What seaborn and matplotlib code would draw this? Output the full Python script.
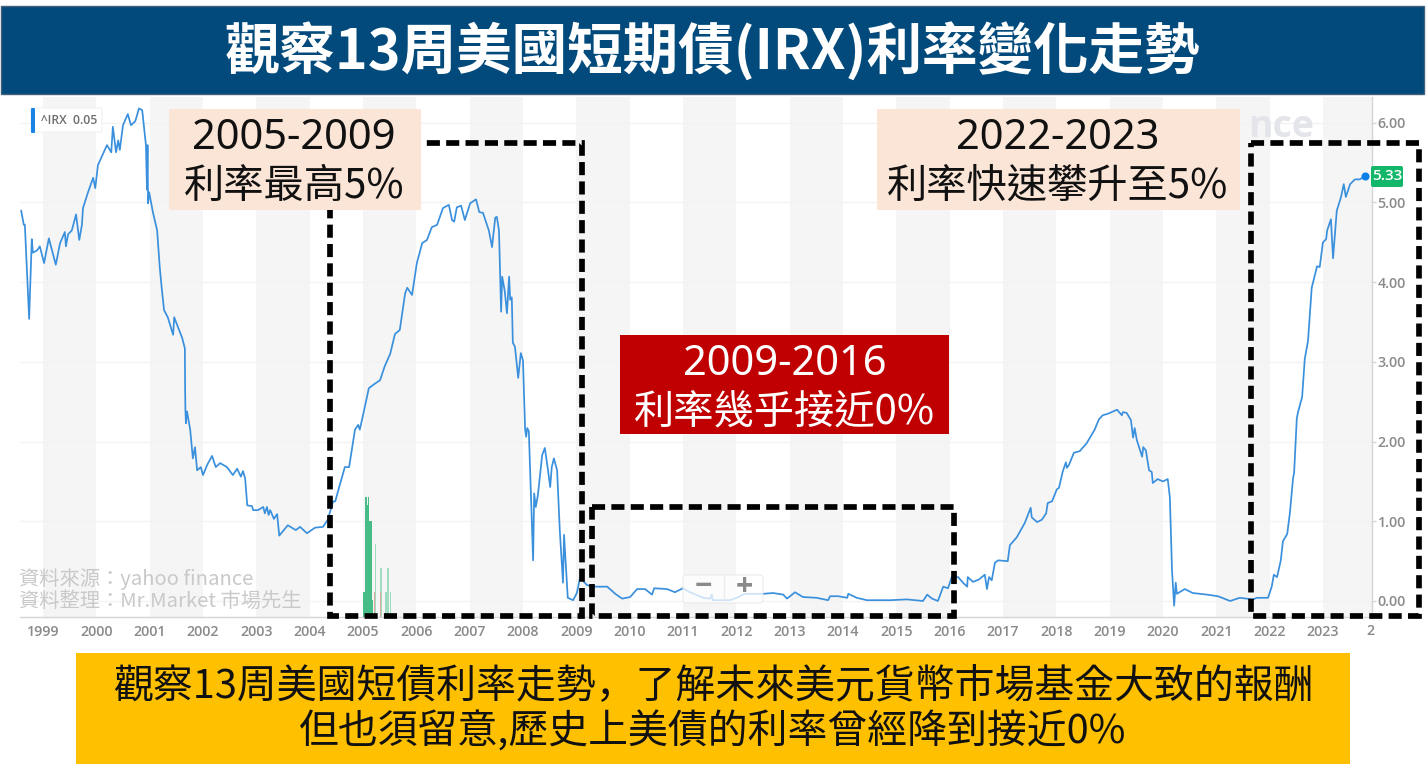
import matplotlib
matplotlib.use("Agg")
import matplotlib.pyplot as plt
from matplotlib.patches import Rectangle, FancyBboxPatch
import seaborn as sns
import pandas as pd

YEARS = list(range(1999, 2024))
Y_TICKS = [0, 1, 2, 3, 4, 5, 6]

# 13-week T-bill yield: (decimal year, percent)
t_1998_2001 = [1998.59,1998.64,1998.66,1998.74,1998.79,1998.81,1998.89,1998.94,1999.02,1999.11,1999.24,1999.32,1999.41,1999.43,1999.47,1999.54,1999.62,1999.68,1999.73,1999.75,1999.84,1999.94,1999.98,2000.03,2000.20,2000.28,2000.31,2000.37,2000.41,2000.44,2000.50,2000.59,2000.65,2000.73,2000.80,2000.86,2000.93,2000.95,2000.96,2000.97,2000.99,2001.06,2001.14,2001.19,2001.23,2001.27,2001.34,2001.44,2001.46,2001.53,2001.61,2001.66]
v_1998_2001 = [4.90,4.72,4.72,3.54,4.54,4.37,4.40,4.45,4.24,4.55,4.22,4.49,4.63,4.45,4.60,4.65,4.85,4.53,4.72,4.93,5.12,5.31,5.18,5.47,5.72,5.63,5.95,5.63,5.78,5.66,5.97,6.11,5.97,6.02,6.18,6.16,5.72,5.16,5.72,4.99,5.13,4.88,4.65,4.18,3.90,3.65,3.56,3.34,3.56,3.44,3.30,3.17]
t_2001_2005 = [2001.665,2001.67,2001.68,2001.70,2001.76,2001.81,2001.85,2001.89,2001.96,2002.00,2002.08,2002.17,2002.24,2002.32,2002.45,2002.56,2002.64,2002.71,2002.75,2002.79,2002.83,2002.92,2002.94,2003.03,2003.13,2003.16,2003.20,2003.23,2003.26,2003.33,2003.39,2003.43,2003.59,2003.74,2003.82,2003.95,2004.10,2004.25,2004.34,2004.44,2004.48,2004.55,2004.66,2004.74,2004.85,2004.91,2004.94,2005.00,2005.11,2005.23,2005.32,2005.41,2005.51,2005.60,2005.69]
v_2001_2005 = [2.65,2.40,2.23,2.38,2.15,1.79,1.93,1.64,1.68,1.58,1.71,1.82,1.68,1.73,1.68,1.58,1.66,1.56,1.63,1.54,1.20,1.19,1.14,1.14,1.18,1.10,1.18,1.08,1.14,1.03,1.09,0.82,0.95,0.89,0.93,0.85,0.92,0.93,1.02,1.25,1.25,1.42,1.68,1.68,2.15,2.21,2.15,2.33,2.67,2.73,2.77,2.95,3.10,3.35,3.40]
t_2005_2009 = [2005.79,2005.83,2005.92,2006.01,2006.11,2006.20,2006.29,2006.39,2006.50,2006.61,2006.67,2006.71,2006.76,2006.84,2006.91,2007.01,2007.12,2007.18,2007.25,2007.36,2007.42,2007.48,2007.51,2007.55,2007.59,2007.61,2007.66,2007.70,2007.74,2007.76,2007.79,2007.81,2007.85,2007.91,2007.96,2008.00,2008.04,2008.06,2008.08,2008.11,2008.19,2008.21,2008.24,2008.28,2008.36,2008.41,2008.47,2008.51,2008.54,2008.58,2008.64,2008.69,2008.75,2008.77,2008.84,2008.94,2009.01,2009.07]
v_2005_2009 = [3.86,3.93,3.84,4.24,4.49,4.53,4.69,4.72,4.93,4.97,4.78,4.76,4.94,4.96,4.78,4.99,5.04,4.88,4.87,4.65,4.44,4.81,4.82,4.65,3.63,4.07,3.88,3.61,4.07,3.78,3.81,3.24,3.19,2.80,3.11,3.02,2.15,2.06,2.17,2.13,0.51,1.35,1.18,1.33,1.83,1.92,1.64,1.43,1.68,1.79,1.64,0.89,0.23,0.83,0.04,0.01,0.10,0.29]
t_2009_2016 = [2009.20,2009.31,2009.58,2009.73,2009.86,2010.01,2010.14,2010.29,2010.42,2010.46,2010.70,2010.85,2011.00,2011.13,2011.38,2011.51,2011.54,2011.56,2011.88,2012.01,2012.16,2012.50,2012.69,2012.88,2012.95,2013.01,2013.10,2013.25,2013.51,2013.72,2013.76,2013.91,2014.08,2014.10,2014.26,2014.45,2014.88,2015.20,2015.50,2015.58,2015.67,2015.78,2015.88,2015.97,2016.04]
v_2009_2016 = [0.20,0.18,0.18,0.09,0.03,0.05,0.15,0.15,0.08,0.16,0.15,0.11,0.16,0.11,0.04,0.03,0.08,0.01,0.01,0.04,0.09,0.09,0.10,0.08,0.03,0.06,0.11,0.05,0.04,0.01,0.06,0.06,0.04,0.09,0.04,0.01,0.01,0.02,0.00,0.08,0.03,0.00,0.18,0.16,0.30]
t_2016_2020 = [2016.16,2016.25,2016.33,2016.34,2016.44,2016.55,2016.66,2016.70,2016.74,2016.79,2016.85,2016.91,2017.09,2017.13,2017.26,2017.41,2017.52,2017.54,2017.64,2017.73,2017.81,2017.84,2017.92,2018.01,2018.05,2018.12,2018.18,2018.20,2018.24,2018.33,2018.44,2018.57,2018.72,2018.80,2018.87,2018.97,2019.14,2019.23,2019.25,2019.32,2019.40,2019.44,2019.47,2019.51,2019.61,2019.63,2019.68,2019.74,2019.79,2019.81,2019.90,2020.00,2020.09]
v_2016_2020 = [0.30,0.23,0.18,0.30,0.24,0.27,0.33,0.15,0.30,0.26,0.48,0.51,0.50,0.70,0.80,0.98,1.17,1.05,0.99,1.02,1.10,1.23,1.25,1.40,1.42,1.62,1.74,1.67,1.71,1.86,1.88,1.98,2.15,2.28,2.33,2.35,2.40,2.33,2.37,2.36,2.27,2.05,2.17,2.02,1.81,1.93,1.89,1.64,1.62,1.48,1.53,1.50,1.53]
t_2020_2023 = [2020.13,2020.17,2020.21,2020.24,2020.26,2020.41,2020.56,2020.83,2021.03,2021.11,2021.26,2021.44,2021.69,2021.76,2021.97,2022.04,2022.08,2022.14,2022.21,2022.25,2022.33,2022.38,2022.44,2022.46,2022.51,2022.53,2022.61,2022.66,2022.72,2022.79,2022.89,2022.94,2023.00,2023.06,2023.08,2023.15,2023.19,2023.26,2023.28,2023.34,2023.39,2023.43,2023.51,2023.60,2023.69,2023.79]
v_2020_2023 = [1.30,0.39,-0.06,0.23,0.09,0.15,0.10,0.08,0.06,0.04,0.00,0.04,0.02,0.04,0.04,0.18,0.33,0.30,0.51,0.75,0.84,1.10,1.54,1.61,2.29,2.36,2.56,3.04,3.26,3.93,4.20,4.19,4.50,4.54,4.65,4.79,4.30,4.90,4.94,5.07,5.23,5.07,5.23,5.29,5.29,5.33]

# Volume spikes in 2005 (arbitrary units read as bar heights)
vol_up_t = [2005.02,2005.05,2005.07,2005.09,2005.11,2005.13,2005.15,2005.17]
vol_up_v = [0.25,1.20,1.20,1.12,1.20,0.96,0.96,0.17]
vol_light_t = [2005.24,2005.34,2005.43,2005.47,2005.51]
vol_light_v = [0.73,0.49,0.25,0.49,0.25]
vol_down_t = [2005.22,2005.32]
vol_down_v = [0.25,0.25]

TITLE = "觀察13周美國短期債(IRX)利率變化走勢"
LEFT_HEAD, LEFT_BODY = "2005-2009", "利率最高5%"
MID_HEAD, MID_BODY = "2009-2016", "利率幾乎接近0%"
RIGHT_HEAD, RIGHT_BODY = "2022-2023", "利率快速攀升至5%"
FOOTER = "觀察13周美國短債利率走勢，了解未來美元貨幣市場基金大致的報酬\n但也須留意,歷史上美債的利率曾經降到接近0%"
SOURCE = "資料來源：yahoo finance\n資料整理：Mr.Market 市場先生"

sns.set_theme(style="white")
CJK = ["Noto Sans CJK TC", "DejaVu Sans"]
CJK_JP = ["Noto Sans CJK JP", "DejaVu Sans"]
plt.rcParams["font.family"] = CJK

W, H = 1426, 780
fig = plt.figure(figsize=(W / 100, H / 100), dpi=100, facecolor="white")

# Chart panel
L, R, T, B = 20, 1372, 97, 617
ax = fig.add_axes([L / W, 1 - B / H, (R - L) / W, (B - T) / H], zorder=1)
PX_YEAR = 53.33
PX_UNIT = 79.7
ax.set_xlim(1999 + (L - 43) / PX_YEAR, 1999 + (R - 43) / PX_YEAR)
ax.set_ylim((601 - B) / PX_UNIT, (601 - T) / PX_UNIT)

# Volume on its own scale, in front of the year bands
ax2 = ax.twinx()
ax2.set_ylim(0, (B - T) / 100)
ax2.bar(vol_up_t, vol_up_v, width=0.024, color="#46bd86", lw=0, zorder=2)
ax2.bar(vol_light_t, vol_light_v, width=0.024, color="#9fdcc0", lw=0, zorder=2)
ax2.bar(vol_down_t, vol_down_v, width=0.02, color="#e0a89c", lw=0, zorder=2)
ax2.axis("off")

for y0 in YEARS[::2]:
    ax.axvspan(y0, y0 + 1, color="#f5f5f5", lw=0, zorder=0)
ax.hlines(Y_TICKS, *ax.get_xlim(), color="#f3f3f3", lw=1, zorder=0.5)

t = t_1998_2001 + t_2001_2005 + t_2005_2009 + t_2009_2016 + t_2016_2020 + t_2020_2023
v = v_1998_2001 + v_2001_2005 + v_2005_2009 + v_2009_2016 + v_2016_2020 + v_2020_2023
df = pd.DataFrame({"year": t, "rate": v})
sns.lineplot(data=df, x="year", y="rate", ax=ax, estimator=None, sort=False,
             color="#3a90dd", lw=1.25, zorder=3)
ax.scatter(t[-1:], v[-1:], s=34, color="#0b7fe8", zorder=4, lw=0, clip_on=False)

ax.set_xlabel("")
ax.set_ylabel("")
ax.set_xticks(YEARS)
ax.set_xticklabels([str(y) for y in YEARS])
ax.yaxis.tick_right()
ax.set_yticks(Y_TICKS)
ax.set_yticklabels([f"{y:.2f}" for y in Y_TICKS])
ax.tick_params(axis="x", length=4, width=1, color="#d5d5d5", pad=2)
ax.tick_params(axis="y", length=3, width=1, color="#d5d5d5", pad=1, right=True, left=False)
for lab in ax.get_xticklabels() + ax.get_yticklabels():
    lab.set_family("Open Sans")
    lab.set_fontsize(10.3)
    lab.set_fontweight("semibold")
    lab.set_color("#8a8a8a")
for s in ("top", "left"):
    ax.spines[s].set_visible(False)
for s in ("bottom", "right"):
    ax.spines[s].set_color("#d5d5d5")
    ax.spines[s].set_linewidth(1)

# Overlay drawn in picture pixels: banners, call-outs, widgets
ov = fig.add_axes([0, 0, 1, 1], zorder=5)
ov.set_xlim(0, W)
ov.set_ylim(H, 0)
ov.axis("off")
ov.patch.set_visible(False)

def box(x0, y0, x1, y1, fc, ec="none", lw=0, z=3):
    ov.add_patch(Rectangle((x0, y0), x1 - x0, y1 - y0, fc=fc, ec=ec, lw=lw, zorder=z))

def dashed(x0, y0, x1, y1):
    ov.add_patch(Rectangle((x0, y0), x1 - x0, y1 - y0, fill=False, ec="black",
                           lw=4.1, ls=(0, (2.3, 1.1)), zorder=2, joinstyle="miter"))

def chip(x0, y0, x1, y1, fc, ec="none", z=2, r=2):
    ov.add_patch(FancyBboxPatch((x0 + r, y0 + r), x1 - x0 - 2 * r, y1 - y0 - 2 * r,
                                boxstyle=f"round,pad={r},rounding_size={r}",
                                fc=fc, ec=ec, lw=0.8, zorder=z))

def callout(cx, y_head, y_body, head, body, color):
    ov.text(cx, y_head, head, ha="center", va="center", color=color,
            fontsize=30, family="Noto Sans", zorder=4)
    ov.text(cx, y_body, body, ha="center", va="center", color=color,
            fontsize=29, zorder=4)

# Faint watermark, the rest of it hidden by the call-out
ov.text(1314, 127, "nce", ha="right", va="center", family="Open Sans",
        fontsize=27, fontweight="bold", color="#e3e5ea", zorder=0.5)

box(1, 6, 1424, 94, "#014a7b", ec="#45607a", lw=1, z=3)
ov.text(712, 52, TITLE, ha="center", va="center", color="white", fontsize=40,
        fontweight="bold", zorder=4)

dashed(330, 143, 582, 616)
dashed(592, 507, 954, 616)
dashed(1251, 143, 1419, 616)

box(169, 109, 421, 210, "#fbe5d6")
callout(294, 138, 186, LEFT_HEAD, LEFT_BODY, "#111111")
box(877, 109, 1240, 210, "#fbe5d6")
callout(1058, 138, 186, RIGHT_HEAD, RIGHT_BODY, "#111111")
box(620, 335, 949, 434, "#c00000")
callout(784.5, 364, 412, MID_HEAD, MID_BODY, "white")
box(76, 653, 1350, 764, "#ffc000")
ov.text(713, 710, FOOTER, ha="center", va="center", color="#111111", fontsize=28.7,
        family=CJK_JP, linespacing=1.12, zorder=4)

ov.text(19, 590, SOURCE, ha="left", va="center", color="#c9c9c9", fontsize=14.6,
        family=CJK_JP, linespacing=1.02, zorder=2)

# Series chip
chip(31, 108, 102, 132, "white", ec="#f0f0f0")
chip(31, 108, 35, 133, "#1a84e6", z=3, r=1)
ov.text(41, 121, "^IRX  0.05", ha="left", va="center", color="#6e6e6e", fontsize=8.8,
        family="Open Sans", fontweight="semibold", zorder=4)

# Zoom control
ov.add_patch(FancyBboxPatch((685, 577), 76, 24, boxstyle="round,pad=2,rounding_size=3",
                            fc="white", ec="#e6e6e6", lw=0.8, alpha=0.75, zorder=1.5))
ov.plot([724, 724], [576, 602], color="#ececec", lw=1, zorder=1.6)
ov.text(703, 587, "−", ha="center", va="center", color="#8a8a8a", fontsize=22,
        family="Open Sans", fontweight="bold", zorder=2)
ov.text(744, 587, "+", ha="center", va="center", color="#8a8a8a", fontsize=22,
        family="Open Sans", fontweight="bold", zorder=2)

# Last-value tag
chip(1371, 166, 1403, 187, "#12b76a", r=2)
ov.text(1387, 176.5, f"{v[-1]:.2f}", ha="center", va="center", color="white", fontsize=11,
        family="Open Sans", fontweight="semibold", zorder=4)

# The clipped tick label for the next year
ov.text(1366, 631, "2", ha="left", va="center", color="#8a8a8a", fontsize=10.3,
        family="Open Sans", fontweight="semibold", zorder=1)

fig.savefig("out.png", dpi=100)
